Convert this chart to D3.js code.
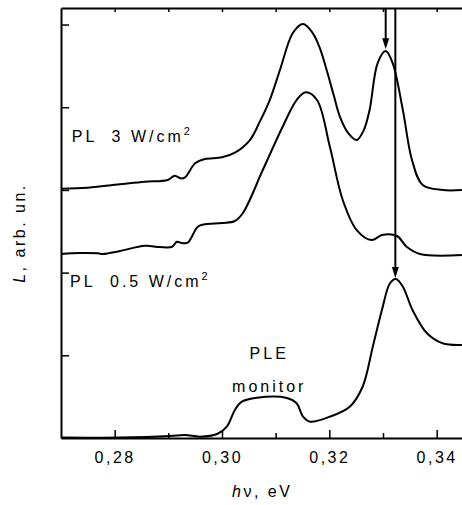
<!DOCTYPE html>
<html>
<head>
<meta charset="utf-8">
<script src="https://cdn.jsdelivr.net/npm/d3@7"></script>
<style>
  body { margin: 0; background: #fff; }
  svg { display: block; font-family: "Liberation Sans", Arial, sans-serif; }
</style>
</head>
<body>
<svg id="chart" width="462" height="505"></svg>
<script>
// photon energy (eV) / intensity (arb. un.)
const pl3E = [0.2700, 0.2750, 0.2814, 0.2856, 0.2899, 0.2912, 0.2923, 0.2931, 0.2950, 0.2968, 0.3000, 0.3024, 0.3052, 0.3070, 0.3089, 0.3108, 0.3132, 0.3151, 0.3169, 0.3182, 0.3195, 0.3208, 0.3220, 0.3236, 0.3251, 0.3264, 0.3275, 0.3290, 0.3305, 0.3318, 0.3337, 0.3354, 0.3374, 0.3411, 0.3447];
const pl3L = [3.015, 3.027, 3.071, 3.099, 3.120, 3.172, 3.140, 3.152, 3.322, 3.374, 3.394, 3.450, 3.603, 3.820, 4.087, 4.450, 4.897, 5.006, 4.897, 4.720, 4.450, 4.150, 3.881, 3.680, 3.603, 3.720, 3.966, 4.534, 4.679, 4.534, 3.966, 3.362, 3.059, 2.999, 2.999];

const pl05E = [0.2700, 0.2735, 0.2769, 0.2778, 0.2810, 0.2856, 0.2884, 0.2907, 0.2916, 0.2925, 0.2936, 0.2955, 0.2968, 0.3000, 0.3024, 0.3039, 0.3076, 0.3113, 0.3139, 0.3156, 0.3177, 0.3201, 0.3225, 0.3251, 0.3279, 0.3298, 0.3326, 0.3344, 0.3369, 0.3447];
const pl05L = [2.225, 2.237, 2.233, 2.225, 2.261, 2.325, 2.309, 2.313, 2.374, 2.358, 2.362, 2.555, 2.584, 2.600, 2.624, 2.721, 3.241, 3.764, 4.087, 4.180, 4.087, 3.522, 2.878, 2.515, 2.394, 2.455, 2.443, 2.313, 2.225, 2.213];

const pleE = [0.2700, 0.2810, 0.2903, 0.2931, 0.2959, 0.2991, 0.3009, 0.3024, 0.3037, 0.3065, 0.3121, 0.3139, 0.3151, 0.3164, 0.3201, 0.3238, 0.3262, 0.3281, 0.3298, 0.3313, 0.3324, 0.3337, 0.3355, 0.3382, 0.3411, 0.3447];
const pleL = [0.006, 0.006, 0.024, 0.036, 0.016, 0.048, 0.137, 0.339, 0.439, 0.487, 0.484, 0.420, 0.258, 0.197, 0.258, 0.378, 0.620, 1.104, 1.548, 1.871, 1.923, 1.830, 1.548, 1.266, 1.145, 1.125];

// arrows from the top of the frame down to the peaks
const arrowE = [0.3305, 0.3323];
const arrowTip = [4.70, 1.935];

const xMajor = [0.28, 0.30, 0.32, 0.34];
const xMinor = [0.29, 0.31, 0.33];
const yTicks = [1, 2, 3, 4, 5];

const svg = d3.select("#chart"),
    margin = {top: 8, right: -1.5, bottom: 67, left: 61},
    width = +svg.attr("width") - margin.left - margin.right,
    height = +svg.attr("height") - margin.top - margin.bottom,
    g = svg.append("g").attr("transform", `translate(${margin.left},${margin.top})`);

const x = d3.scaleLinear().domain([0.27, 0.345]).range([0, width]);
const y = d3.scaleLinear().domain([0, 5.2]).range([height, 0]);

const fmt = d => d3.format(".2f")(d).replace(".", ",");

// bottom axis: ticks inward
g.append("g")
    .attr("transform", `translate(0,${height})`)
    .call(d3.axisBottom(x).tickValues(xMajor).tickSizeInner(-8).tickSizeOuter(0).tickPadding(14).tickFormat(fmt))
    .call(a => a.select(".domain").attr("stroke-width", 2))
    .call(a => a.selectAll(".tick line").attr("stroke-width", 1.5))
    .call(a => a.selectAll("text").attr("font-size", 16).attr("fill", "#000").attr("font-family", null).attr("letter-spacing", 2.5));

g.append("g")
    .attr("transform", `translate(0,${height})`)
    .call(d3.axisBottom(x).tickValues(xMinor).tickSizeInner(-5).tickSizeOuter(0).tickFormat(""))
    .call(a => a.select(".domain").remove())
    .call(a => a.selectAll(".tick line").attr("stroke-width", 1.5));

// top axis: small ticks down
g.append("g")
    .call(d3.axisTop(x).tickValues(xMajor.concat(xMinor)).tickSizeInner(-4).tickSizeOuter(0).tickFormat(""))
    .call(a => a.select(".domain").attr("stroke-width", 2))
    .call(a => a.selectAll(".tick line").attr("stroke-width", 1.5));

// left axis, no labels
g.append("g")
    .call(d3.axisLeft(y).tickValues(yTicks).tickSizeInner(-8).tickSizeOuter(0).tickFormat(""))
    .call(a => a.select(".domain").attr("stroke-width", 2))
    .call(a => a.selectAll(".tick line").attr("stroke-width", 1.5));

const line = d3.line()
    .x(d => x(d[0]))
    .y(d => y(d[1]))
    .curve(d3.curveCatmullRom.alpha(0.5));

[[pl3E, pl3L], [pl05E, pl05L], [pleE, pleL]].forEach(([e, l]) => {
    g.append("path")
        .datum(d3.zip(e, l))
        .attr("fill", "none")
        .attr("stroke", "#000")
        .attr("stroke-width", 2)
        .attr("stroke-linejoin", "round")
        .attr("d", line);
});

// arrows
arrowE.forEach((e, i) => {
    const ax = x(e), tip = y(arrowTip[i]);
    g.append("line")
        .attr("x1", ax).attr("x2", ax)
        .attr("y1", 0).attr("y2", tip - 8)
        .attr("stroke", "#000")
        .attr("stroke-width", 2);
    g.append("path")
        .attr("d", `M${ax - 3.5},${tip - 11}L${ax + 3.5},${tip - 11}L${ax},${tip}Z`)
        .attr("fill", "#000");
});

// curve labels
function label(tx, ty, main, sup) {
    const t = g.append("text")
        .attr("x", tx).attr("y", ty)
        .attr("font-size", 16)
        .attr("letter-spacing", 3)
        .style("white-space", "pre");
    t.append("tspan").text(main);
    if (sup) t.append("tspan").attr("dy", -7).attr("font-size", 11).text(sup);
}
label(x(0.2720), y(3.58), "PL  3 W/cm", "2");
label(x(0.2717), y(1.83), "PL  0.5 W/cm", "2");

g.append("text")
    .attr("x", x(0.3088)).attr("y", y(0.95))
    .attr("text-anchor", "middle")
    .attr("font-size", 16).attr("letter-spacing", 3)
    .text("PLE");
g.append("text")
    .attr("x", x(0.3088)).attr("y", y(0.56))
    .attr("text-anchor", "middle")
    .attr("font-size", 16).attr("letter-spacing", 3)
    .text("monitor");

// axis titles
const xt = g.append("text")
    .attr("x", x(0.3075)).attr("y", height + 59)
    .attr("text-anchor", "middle")
    .attr("font-size", 16).attr("letter-spacing", 2.5);
xt.append("tspan").attr("font-style", "italic").text("h");
xt.append("tspan").text("ν, eV");

const yt = svg.append("text")
    .attr("transform", `translate(25,233) rotate(-90)`)
    .attr("text-anchor", "middle")
    .attr("font-size", 16).attr("letter-spacing", 2.5);
yt.append("tspan").attr("font-style", "italic").text("L");
yt.append("tspan").text(", arb. un.");
</script>
</body>
</html>
